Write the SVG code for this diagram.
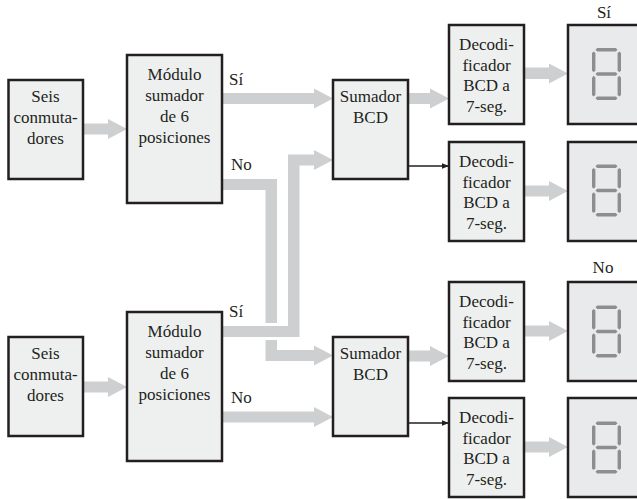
<svg xmlns="http://www.w3.org/2000/svg" xmlns:xlink="http://www.w3.org/1999/xlink" width="637" height="499" viewBox="0 0 637 499" font-family="Liberation Serif, Times New Roman, serif" font-size="17">
<style>
.box{fill:#eef0ef;stroke:#231f20;stroke-width:2.5}
.disp{fill:#e9eaeb;stroke:#231f20;stroke-width:2.5}
.t{fill:#231f20;text-anchor:middle}
.lbl{fill:#231f20}
.arr{fill:#cdcfd1}
.seg{fill:#8c8e90}
.thin{stroke:#231f20;stroke-width:1.3;fill:none}
</style>
<defs>
<marker id="ah" viewBox="0 0 10 10" refX="10" refY="5" markerWidth="7" markerHeight="7" markerUnits="userSpaceOnUse" orient="auto">
<path d="M0,1 L10,5 L0,9 Z" fill="#231f20"/>
</marker>
<g id="d8" class="seg">
<polygon points="-11,-24.3 -9.3,-26 9.3,-26 11,-24.3 9.3,-22.6 -9.3,-22.6"/>
<polygon points="-11,0 -9.3,-1.7 9.3,-1.7 11,0 9.3,1.7 -9.3,1.7"/>
<polygon points="-11,24.3 -9.3,22.6 9.3,22.6 11,24.3 9.3,26 -9.3,26"/>
<polygon points="-12.8,-22.6 -11.1,-20.9 -11.1,-3.4 -12.8,-1.7 -14.5,-3.4 -14.5,-20.9"/>
<polygon points="12.8,-22.6 14.5,-20.9 14.5,-3.4 12.8,-1.7 11.1,-3.4 11.1,-20.9"/>
<polygon points="-12.8,1.7 -11.1,3.4 -11.1,20.9 -12.8,22.6 -14.5,20.9 -14.5,3.4"/>
<polygon points="12.8,1.7 14.5,3.4 14.5,20.9 12.8,22.6 11.1,20.9 11.1,3.4"/>
</g>
</defs>

<g id="connectors">
<path class="arr" d="M83,123.5 H108 V119 L127,129 L108,139 V134.5 H83 Z"/>
<path class="arr" d="M222,93 H314 V88.5 L333,98.5 L314,108.5 V104 H222 Z"/>
<path class="arr" d="M408,93 H430 V88.5 L449,98.5 L430,108.5 V104 H408 Z"/>
<path class="arr" d="M524,67.5 H549 V63.5 L568,73.5 L549,83.5 V79 H524 Z"/>
<path class="arr" d="M524,185.5 H549 V181 L568,191 L549,201 V196.5 H524 Z"/>
<path class="arr" d="M524,325.5 H549 V321 L568,331 L549,341 V336.5 H524 Z"/>
<path class="arr" d="M524,441.5 H549 V437 L568,447 L549,457 V452.5 H524 Z"/>
<path class="arr" d="M222,179 H277 V350 H314 V345.5 L333,355.5 L314,365.5 V361 H265.5 V190 H222 Z"/>
<rect x="262" y="323" width="18" height="17" fill="#ffffff"/>
<path class="arr" d="M222,326 H288 V154.5 H314 V150 L333,160 L314,170 V165.5 H299.5 V337 H222 Z"/>
<path class="arr" d="M83,381.5 H108 V377 L127,387 L108,397 V392.5 H83 Z"/>
<path class="arr" d="M408,350.5 H430 V346 L449,356 L430,366 V361.5 H408 Z"/>
<path class="arr" d="M222,411.5 H314 V407 L333,417 L314,427 V422.5 H222 Z"/>
<line class="thin" x1="408" y1="166" x2="449" y2="166" marker-end="url(#ah)"/>
<line class="thin" x1="408" y1="423" x2="449" y2="423" marker-end="url(#ah)"/>
<text class="lbl" x="229" y="85">Sí</text>
<text class="lbl" x="231" y="170">No</text>
<text class="lbl" x="229" y="317">Sí</text>
<text class="lbl" x="231" y="403">No</text>
</g>

<g id="seis1">
<rect class="box" x="8.5" y="80" width="74.5" height="99"/>
<text class="t" x="45.5" y="102">Seis</text>
<text class="t" x="45.5" y="123">conmuta-</text>
<text class="t" x="45.5" y="144">dores</text>
</g>
<g id="modulo1">
<rect class="box" x="127" y="55" width="95" height="148"/>
<text class="t" x="174.5" y="80">Módulo</text>
<text class="t" x="174.5" y="101">sumador</text>
<text class="t" x="174.5" y="122">de 6</text>
<text class="t" x="174.5" y="143">posiciones</text>
</g>
<g id="sumador1">
<rect class="box" x="333" y="80" width="75" height="99"/>
<text class="t" x="370.5" y="102">Sumador</text>
<text class="t" x="370.5" y="123">BCD</text>
</g>
<g id="dec1">
<rect class="box" x="449" y="25" width="75" height="99"/>
<text class="t" x="486.5" y="50">Decodi-</text>
<text class="t" x="486.5" y="70.5">ficador</text>
<text class="t" x="486.5" y="91">BCD a</text>
<text class="t" x="486.5" y="112">7-seg.</text>
</g>
<g id="dec2">
<rect class="box" x="449" y="142" width="75" height="99"/>
<text class="t" x="486.5" y="167">Decodi-</text>
<text class="t" x="486.5" y="187.5">ficador</text>
<text class="t" x="486.5" y="208">BCD a</text>
<text class="t" x="486.5" y="229">7-seg.</text>
</g>
<g id="disp1">
<rect class="disp" x="568" y="25" width="76" height="99"/>
<use xlink:href="#d8" x="606.5" y="74"/>
<text class="t" x="604" y="18">Sí</text>
</g>
<g id="disp2">
<rect class="disp" x="568" y="142" width="76" height="99"/>
<use xlink:href="#d8" x="606.5" y="190.5"/>
</g>

<g id="seis2">
<rect class="box" x="8.5" y="337" width="74.5" height="99"/>
<text class="t" x="45.5" y="359">Seis</text>
<text class="t" x="45.5" y="380">conmuta-</text>
<text class="t" x="45.5" y="401">dores</text>
</g>
<g id="modulo2">
<rect class="box" x="127" y="312" width="95" height="149"/>
<text class="t" x="174.5" y="337">Módulo</text>
<text class="t" x="174.5" y="358">sumador</text>
<text class="t" x="174.5" y="379">de 6</text>
<text class="t" x="174.5" y="400">posiciones</text>
</g>
<g id="sumador2">
<rect class="box" x="333" y="337" width="75" height="99"/>
<text class="t" x="370.5" y="359">Sumador</text>
<text class="t" x="370.5" y="380">BCD</text>
</g>
<g id="dec3">
<rect class="box" x="449" y="282" width="75" height="99"/>
<text class="t" x="486.5" y="307">Decodi-</text>
<text class="t" x="486.5" y="327.5">ficador</text>
<text class="t" x="486.5" y="348">BCD a</text>
<text class="t" x="486.5" y="369">7-seg.</text>
</g>
<g id="dec4">
<rect class="box" x="449" y="398" width="75" height="99"/>
<text class="t" x="486.5" y="423">Decodi-</text>
<text class="t" x="486.5" y="443.5">ficador</text>
<text class="t" x="486.5" y="464">BCD a</text>
<text class="t" x="486.5" y="485">7-seg.</text>
</g>
<g id="disp3">
<rect class="disp" x="568" y="282" width="76" height="99"/>
<use xlink:href="#d8" x="606.5" y="331.5"/>
<text class="t" x="603" y="273">No</text>
</g>
<g id="disp4">
<rect class="disp" x="568" y="398" width="76" height="99"/>
<use xlink:href="#d8" x="606.5" y="447.5"/>
</g>
</svg>
